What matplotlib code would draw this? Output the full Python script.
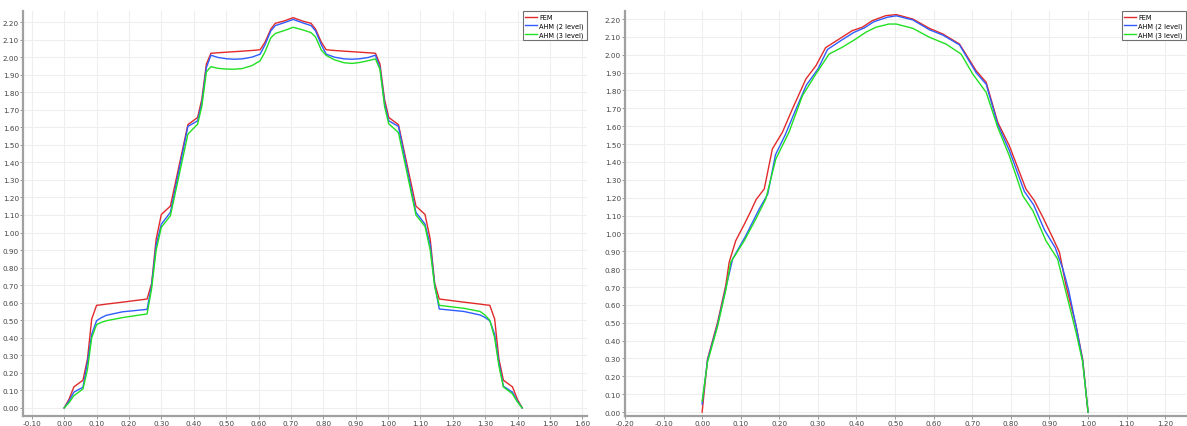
import matplotlib
matplotlib.use("Agg")
import matplotlib.pyplot as plt
from matplotlib.ticker import MultipleLocator, FormatStrFormatter

# profile along the diagonal (left plot)
diag_x = [0.0, 0.015, 0.03, 0.058, 0.072, 0.085, 0.1, 0.115, 0.13, 0.18, 0.256, 0.27, 0.284,
          0.3, 0.328, 0.382, 0.412, 0.425, 0.439, 0.453, 0.475, 0.5, 0.525, 0.55, 0.58,
          0.605, 0.62, 0.638, 0.652, 0.677, 0.707,
          0.737, 0.762, 0.776, 0.794, 0.809, 0.834, 0.864, 0.889, 0.914, 0.939, 0.961,
          0.975, 0.989, 1.002, 1.032, 1.086, 1.114, 1.13, 1.144, 1.158, 1.234, 1.284,
          1.299, 1.314, 1.329, 1.342, 1.356, 1.384, 1.399, 1.414]
diag_fem = [0.0, 0.05, 0.12, 0.158, 0.28, 0.507, 0.585, 0.588, 0.592, 0.603, 0.621, 0.71, 0.963,
            1.103, 1.151, 1.615, 1.656, 1.76, 1.96, 2.022, 2.025, 2.028, 2.031, 2.034, 2.038,
            2.042, 2.085, 2.16, 2.193, 2.205, 2.225,
            2.205, 2.193, 2.16, 2.085, 2.042, 2.038, 2.034, 2.031, 2.028, 2.025, 2.022,
            1.96, 1.76, 1.656, 1.615, 1.151, 1.103, 0.963, 0.71, 0.621, 0.603, 0.592,
            0.588, 0.585, 0.507, 0.28, 0.158, 0.12, 0.05, 0.0]
diag_ahm2 = [0.0, 0.04, 0.09, 0.118, 0.26, 0.42, 0.497, 0.515, 0.528, 0.548, 0.562, 0.7, 0.93,
             1.048, 1.115, 1.605, 1.637, 1.74, 1.94, 2.011, 1.998, 1.991, 1.988, 1.99, 2.0,
             2.017, 2.07, 2.15, 2.18, 2.195, 2.215,
             2.195, 2.18, 2.15, 2.07, 2.017, 2.0, 1.99, 1.988, 1.991, 1.998, 2.011,
             1.94, 1.74, 1.637, 1.605, 1.115, 1.048, 0.93, 0.7, 0.564, 0.55, 0.53,
             0.516, 0.497, 0.42, 0.26, 0.124, 0.09, 0.04, 0.0]
diag_ahm3 = [0.0, 0.03, 0.07, 0.108, 0.22, 0.4, 0.475, 0.488, 0.497, 0.515, 0.536, 0.68, 0.9,
             1.03, 1.096, 1.561, 1.618, 1.72, 1.915, 1.946, 1.936, 1.932, 1.931, 1.935, 1.952,
             1.979, 2.03, 2.11, 2.135, 2.15, 2.17,
             2.155, 2.14, 2.115, 2.04, 2.01, 1.985, 1.968, 1.964, 1.97, 1.98, 1.99,
             1.93, 1.72, 1.62, 1.57, 1.1, 1.035, 0.9, 0.69, 0.585, 0.568, 0.55,
             0.53, 0.5, 0.4, 0.24, 0.12, 0.08, 0.035, 0.0]

# profile along the mid line (right plot)
mid_x_fem = [0.0, 0.014, 0.04, 0.061, 0.07, 0.087, 0.109, 0.125, 0.14, 0.161, 0.182, 0.208,
             0.234, 0.269, 0.295, 0.32, 0.355, 0.389, 0.415, 0.441, 0.476, 0.503, 0.546,
             0.589, 0.624, 0.667, 0.71, 0.736, 0.766, 0.796, 0.839, 0.861, 0.883, 0.908,
             0.926, 0.943, 0.969, 0.986, 1.0]
mid_fem = [0.0, 0.297, 0.502, 0.707, 0.838, 0.959, 1.05, 1.12, 1.19, 1.249, 1.473, 1.566,
           1.697, 1.865, 1.939, 2.04, 2.088, 2.135, 2.154, 2.191, 2.219, 2.225, 2.2,
           2.148, 2.116, 2.06, 1.911, 1.846, 1.622, 1.491, 1.249, 1.183, 1.09, 0.978,
           0.894, 0.707, 0.483, 0.297, 0.0]
mid_x_ahm2 = [0.0, 0.014, 0.04, 0.061, 0.079, 0.113, 0.148, 0.17, 0.19, 0.215, 0.24, 0.27,
              0.3, 0.325, 0.36, 0.393, 0.42, 0.445, 0.48, 0.503, 0.546, 0.589, 0.624, 0.667,
              0.71, 0.736, 0.766, 0.796, 0.835, 0.859, 0.887, 0.915, 0.935, 0.95, 0.97,
              0.986, 1.0]
mid_ahm2 = [0.045, 0.29, 0.49, 0.69, 0.857, 0.987, 1.137, 1.22, 1.44, 1.55, 1.68, 1.83,
            1.92, 2.03, 2.08, 2.125, 2.15, 2.185, 2.21, 2.218, 2.195, 2.14, 2.11, 2.055,
            1.9, 1.835, 1.61, 1.465, 1.235, 1.16, 1.02, 0.92, 0.8, 0.68, 0.47,
            0.29, 0.0]
mid_x_ahm3 = [0.0, 0.014, 0.04, 0.061, 0.074, 0.109, 0.139, 0.165, 0.191, 0.225, 0.26, 0.295,
              0.329, 0.363, 0.398, 0.424, 0.45, 0.484, 0.503, 0.546, 0.589, 0.632, 0.671,
              0.701, 0.736, 0.766, 0.796, 0.831, 0.857, 0.891, 0.921, 0.943, 0.969, 0.986, 1.0]
mid_ahm3 = [0.06, 0.28, 0.48, 0.68, 0.838, 0.959, 1.08, 1.193, 1.417, 1.566, 1.771, 1.893,
            2.004, 2.042, 2.088, 2.126, 2.154, 2.172, 2.172, 2.148, 2.098, 2.06, 2.004,
            1.893, 1.79, 1.594, 1.435, 1.211, 1.127, 0.959, 0.857, 0.67, 0.446, 0.28, 0.0]

labels = ["FEM", "AHM (2 level)", "AHM (3 level)"]
colors = ["#e22a2a", "#2f5cff", "#22e022"]

fig = plt.figure(figsize=(11.87, 4.27), dpi=100)
ax1 = fig.add_axes([0.0194, 0.0234, 0.4751, 0.9485])
ax2 = fig.add_axes([0.5265, 0.0234, 0.4727, 0.9485])


def style(ax, xlim, ylim):
    ax.set_xlim(*xlim)
    ax.set_ylim(*ylim)
    ax.xaxis.set_major_locator(MultipleLocator(0.1))
    ax.yaxis.set_major_locator(MultipleLocator(0.1))
    ax.xaxis.set_major_formatter(FormatStrFormatter("%.2f"))
    ax.yaxis.set_major_formatter(FormatStrFormatter("%.2f"))
    ax.grid(True, color="#eeeeee", linewidth=0.8)
    ax.set_axisbelow(True)
    for s in ["top", "right"]:
        ax.spines[s].set_visible(False)
    for s in ["left", "bottom"]:
        ax.spines[s].set_color("#a0a0a0")
        ax.spines[s].set_linewidth(1.6)
    ax.tick_params(labelsize=5.2, length=2, width=0.6, pad=1,
                   colors="#888888", labelcolor="#444444")
    leg = ax.legend(loc="upper right", fontsize=4.8, handlelength=1.8,
                    fancybox=False, framealpha=1, borderpad=0.4,
                    labelspacing=0.35, handletextpad=0.3, borderaxespad=0.05)
    leg.get_frame().set_edgecolor("#707070")
    leg.get_frame().set_linewidth(0.8)


for ys, lab, c in zip([diag_fem, diag_ahm2, diag_ahm3], labels, colors):
    ax1.plot(diag_x, ys, color=c, linewidth=1.0, label=lab)
style(ax1, (-0.127, 1.614), (-0.046, 2.263))

for xs, ys, lab, c in zip([mid_x_fem, mid_x_ahm2, mid_x_ahm3],
                          [mid_fem, mid_ahm2, mid_ahm3], labels, colors):
    ax2.plot(xs, ys, color=c, linewidth=1.0, label=lab)
style(ax2, (-0.2, 1.254), (-0.022, 2.245))

fig.savefig("out.png", dpi=100)
